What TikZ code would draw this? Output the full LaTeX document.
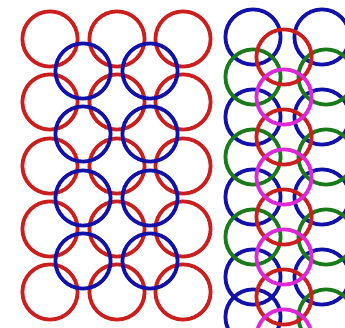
\documentclass[tikz,border=0pt]{standalone}
\usepackage{xcolor}
\definecolor{ringred}{RGB}{205,30,30}
\definecolor{ringblue}{RGB}{18,18,170}
\definecolor{ringgreen}{RGB}{24,122,24}
\definecolor{ringmagenta}{RGB}{220,40,215}

\begin{document}
\begin{tikzpicture}[
        x=1pt, y=-1pt,
        ring/.style={draw=#1, line width=3.8pt}
    ]
        \useasboundingbox[fill=white] (0,0) rectangle (345,328);

        % Left panel: red rings
        \foreach \x in {50,117,183} {
            \foreach \y in {39,102,166,229,292} {
                \draw[ring=ringred] (\x,\y) circle (27.6pt);
            }
        }

        % Left panel: blue rings
        \foreach \x in {83,150} {
            \foreach \y in {71,134,198,261} {
                \draw[ring=ringblue] (\x,\y) circle (27.6pt);
            }
        }

        % Right panel: blue and green columns
        \foreach \y in {37,117,197,277,317} {
            \draw[ring=ringblue] (253,\y) circle (27.6pt);
        }
        \foreach \y in {37,117,197,277} {
            \draw[ring=ringblue] (322,\y) circle (27.6pt);
        }
        \foreach \y in {77,157,237} {
            \draw[ring=ringgreen] (253,\y) circle (27.6pt);
        }
        \foreach \y in {77,157,237,317} {
            \draw[ring=ringgreen] (326,\y) circle (27.6pt);
        }

        % Right panel: red and magenta column
        \foreach \y in {57,137,217,297} {
            \draw[ring=ringred] (284,\y) circle (27.6pt);
        }
        \foreach \y in {97,177,257,337} {
            \draw[ring=ringmagenta] (284,\y) circle (27.6pt);
        }

    \end{tikzpicture}
\end{document}
